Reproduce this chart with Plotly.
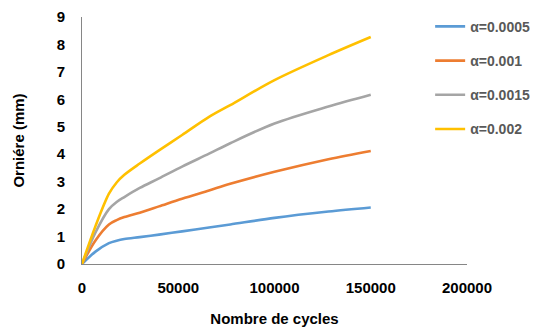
import plotly.graph_objects as go

cycles = [0, 7000, 14000, 18000, 22000, 30000, 40000, 52000, 66000, 77000, 100000, 128000, 150000]
alpha_0005 = [0, 0.45, 0.76, 0.85, 0.91, 0.98, 1.07, 1.19, 1.33, 1.44, 1.68, 1.91, 2.06]
alpha_001 = [0, 0.86, 1.44, 1.60, 1.71, 1.87, 2.10, 2.38, 2.68, 2.92, 3.36, 3.82, 4.12]
alpha_0015 = [0, 1.15, 2.00, 2.26, 2.44, 2.77, 3.12, 3.55, 4.02, 4.40, 5.12, 5.74, 6.17]
alpha_002 = [0, 1.38, 2.56, 2.97, 3.25, 3.66, 4.14, 4.70, 5.36, 5.79, 6.70, 7.61, 8.27]
series_names = ["α=0.0005", "α=0.001", "α=0.0015", "α=0.002"]
series_values = [alpha_0005, alpha_001, alpha_0015, alpha_002]
colors = ["#5B9BD5", "#ED7D31", "#A5A5A5", "#FFC000"]
x_ticks = [0, 50000, 100000, 150000, 200000]
y_ticks = list(range(0, 10))

fig = go.Figure()
for i, (name, vals) in enumerate(zip(series_names, series_values)):
    fig.add_trace(go.Scatter(
        x=cycles, y=vals, name=name, mode="lines",
        line=dict(color=colors[i], width=2.6, shape="spline", smoothing=0.9),
        legendgroup=name,
    ))

font_family = "Liberation Sans, Arial, sans-serif"
fig.update_layout(
    width=535, height=327,
    margin=dict(l=82, r=68, t=17, b=63, autoexpand=False),
    paper_bgcolor="white", plot_bgcolor="white",
    font=dict(family=font_family, size=14, color="#000000"),
    showlegend=True,
    legend=dict(
        xref="container", yref="container",
        x=0.804, y=0.967, xanchor="left", yanchor="top",
        font=dict(family=font_family, size=14, color="#595959", weight="bold"),
        tracegroupgap=13, bgcolor="rgba(0,0,0,0)",
        itemwidth=30,
    ),
    xaxis=dict(
        range=[0, 200000], tickvals=x_ticks, ticktext=[str(v) for v in x_ticks],
        showgrid=False, zeroline=False, showline=True, linecolor="#868686", linewidth=1,
        ticks="", ticklabelstandoff=10, automargin=False,
        tickfont=dict(family=font_family, size=15, color="#000000", weight="bold"),
        title=dict(text="Nombre de cycles", standoff=18,
                   font=dict(family=font_family, size=15, color="#000000", weight="bold")),
    ),
    yaxis=dict(
        range=[0, 9], tickvals=y_ticks,
        showgrid=False, zeroline=False, showline=True, linecolor="#868686", linewidth=1,
        ticks="", ticklabelstandoff=13, automargin=False,
        tickfont=dict(family=font_family, size=15, color="#000000", weight="bold"),
        title=dict(text="Orniére (mm)", standoff=28,
                   font=dict(family=font_family, size=15, color="#000000", weight="bold")),
    ),
)

fig.write_html("out.html", config={"displayModeBar": False},
               post_script="document.body.style.margin='0px';")
